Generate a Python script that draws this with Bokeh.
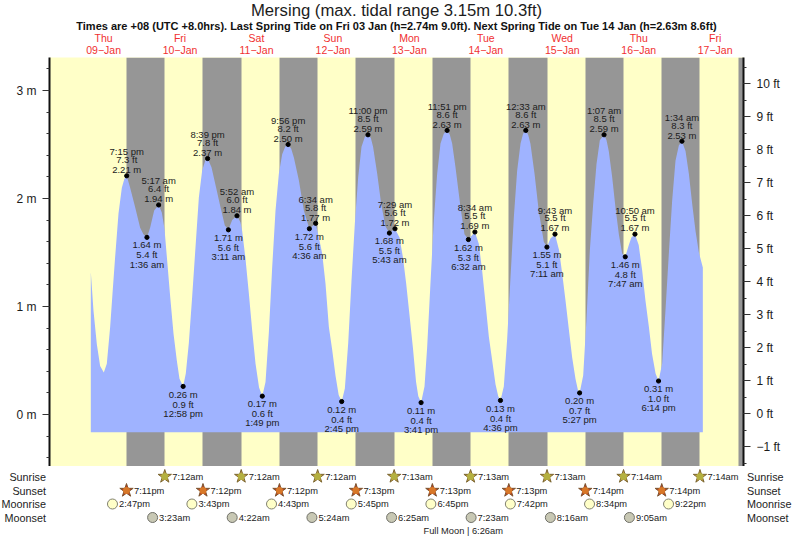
from bokeh.plotting import figure
from bokeh.layouts import column
from bokeh.models import ColumnDataSource, FixedTicker, LinearAxis, Range1d
from bokeh.core.properties import value
from bokeh.embed import file_html
from bokeh.resources import INLINE

FONT = "Liberation Sans"

# ---- tide curve (hours since 09-Jan 00:00, metres)
curve_t = [7.98, 8.82, 9.87, 10.91, 12.06, 13.00, 14.05, 14.79, 15.62, 16.67, 17.72, 18.50, 19.25,
           20.33, 21.90, 23.47, 24.50, 25.60, 26.60, 27.87, 29.28, 30.27, 31.11, 31.85, 32.90, 33.94,
           34.98, 35.82, 36.97, 37.80, 38.75, 39.80, 40.85, 41.90, 42.94, 43.90, 44.65, 45.87, 47.33,
           48.70, 50.06, 51.18, 52.36, 53.87, 54.97, 55.50, 56.55, 57.60, 58.64, 59.70, 60.80,
           61.82, 62.83, 63.88, 64.92, 65.97, 67.02, 68.06, 69.00, 69.93, 70.90, 71.73, 73.30, 74.87, 76.60,
           78.57, 79.58, 80.62, 81.67, 82.72, 83.76, 84.80, 85.80, 86.75, 87.74, 88.79, 89.83, 90.88,
           91.93, 92.97, 94.00, 95.00, 95.90, 96.60, 97.90, 99.15, 100.50, 101.72, 103.48, 104.90, 105.95, 107.00,
           108.00, 109.10, 110.10, 110.80, 111.68, 112.75, 113.58, 114.63, 115.68, 116.72, 117.77, 118.80, 119.85, 120.70, 121.43,
           122.48, 124.05, 125.30, 126.53, 128.57, 129.80, 130.85, 131.90, 132.95, 134.00, 135.04, 135.90, 136.60,
           137.65, 138.70, 139.75, 140.80, 141.84, 142.90, 143.70, 144.55, 145.30, 146.00, 147.30, 148.60, 150.20, 151.18,
           152.30, 153.72, 155.00, 156.00, 157.00, 158.10, 159.10, 160.15, 160.90, 161.45, 162.57, 163.60, 164.66,
           165.70, 166.75, 167.80, 169.12, 169.90, 170.60, 171.67, 172.70, 173.77, 174.80, 175.78, 176.90, 177.70,
           178.83, 180.00, 181.10, 182.10, 183.20, 184.20, 185.30, 186.23, 187.35, 188.40, 189.46, 190.50,
           191.55, 192.60, 193.57, 194.70, 195.75, 196.80, 197.84, 198.90, 200.14]
curve_h = [1.32, 0.96, 0.65, 0.45, 0.39, 0.47, 0.81, 1.12, 1.46, 1.86, 2.10, 2.18, 2.21,
           2.10, 1.92, 1.73, 1.67, 1.64, 1.73, 1.89, 1.94, 1.87, 1.72, 1.46, 1.09, 0.75,
           0.50, 0.33, 0.26, 0.38, 0.66, 1.09, 1.55, 2.01, 2.26, 2.35, 2.37, 2.29, 2.10,
           1.92, 1.75, 1.71, 1.80, 1.84, 1.78, 1.70, 1.44, 1.12, 0.78, 0.47, 0.25,
           0.17, 0.30, 0.76, 1.36, 1.89, 2.23, 2.41, 2.48, 2.50, 2.46, 2.38, 2.17, 1.89, 1.72,
           1.77, 1.64, 1.49, 1.21, 0.81, 0.60, 0.36, 0.18, 0.12, 0.24, 0.66, 1.24, 1.77,
           2.20, 2.48, 2.57, 2.59, 2.56, 2.48, 2.23, 1.95, 1.74, 1.68, 1.72, 1.64, 1.46, 1.21,
           0.93, 0.62, 0.30, 0.17, 0.11, 0.26, 0.62, 1.22, 1.80, 2.23, 2.51, 2.60, 2.63, 2.59, 2.51,
           2.29, 1.92, 1.67, 1.62, 1.69, 1.58, 1.33, 1.03, 0.72, 0.50, 0.28, 0.17, 0.13,
           0.26, 0.70, 1.27, 1.83, 2.26, 2.51, 2.60, 2.63, 2.59, 2.51, 2.23, 1.89, 1.60, 1.55,
           1.63, 1.67, 1.52, 1.30, 1.06, 0.78, 0.53, 0.33, 0.23, 0.20, 0.36, 0.88, 1.52,
           1.95, 2.32, 2.54, 2.59, 2.54, 2.44, 2.20, 1.92, 1.67, 1.49, 1.46, 1.57, 1.64,
           1.67, 1.57, 1.33, 1.06, 0.81, 0.56, 0.38, 0.31, 0.47, 0.96, 1.49, 1.98,
           2.35, 2.49, 2.53, 2.44, 2.23, 1.95, 1.70, 1.50, 1.36]
curve_base = -0.164

# ---- labelled high-side events
high_t = [19.25, 29.28, 44.65, 53.87, 69.93, 78.57, 95.00, 103.48, 119.85, 128.57, 144.55, 153.72, 169.12, 178.83, 193.57]
high_m = [2.21, 1.94, 2.37, 1.84, 2.50, 1.77, 2.59, 1.72, 2.63, 1.69, 2.63, 1.67, 2.59, 1.67, 2.53]
high_ft = ["7.3 ft", "6.4 ft", "7.8 ft", "6.0 ft", "8.2 ft", "5.8 ft", "8.5 ft", "5.6 ft", "8.6 ft", "5.5 ft", "8.6 ft", "5.5 ft", "8.5 ft", "5.5 ft", "8.3 ft"]
high_time = ["7:15 pm", "5:17 am", "8:39 pm", "5:52 am", "9:56 pm", "6:34 am", "11:00 pm", "7:29 am", "11:51 pm", "8:34 am", "12:33 am", "9:43 am", "1:07 am", "10:50 am", "1:34 am"]

# ---- labelled low-side events
low_t = [25.60, 36.97, 51.18, 61.82, 76.60, 86.75, 101.72, 111.68, 126.53, 136.60, 151.18, 161.45, 175.78, 186.23]
low_m = [1.64, 0.26, 1.71, 0.17, 1.72, 0.12, 1.68, 0.11, 1.62, 0.13, 1.55, 0.20, 1.46, 0.31]
low_ft = ["5.4 ft", "0.9 ft", "5.6 ft", "0.6 ft", "5.6 ft", "0.4 ft", "5.5 ft", "0.4 ft", "5.3 ft", "0.4 ft", "5.1 ft", "0.7 ft", "4.8 ft", "1.0 ft"]
low_time = ["1:36 am", "12:58 pm", "3:11 am", "1:49 pm", "4:36 am", "2:45 pm", "5:43 am", "3:41 pm", "6:32 am", "4:36 pm", "7:11 am", "5:27 pm", "7:47 am", "6:14 pm"]

# ---- days
day_hours = [12, 36, 60, 84, 108, 132, 156, 180, 204]
day_names = ["Thu", "Fri", "Sat", "Sun", "Mon", "Tue", "Wed", "Thu", "Fri"]
day_dates = ["09\u2212Jan", "10\u2212Jan", "11\u2212Jan", "12\u2212Jan", "13\u2212Jan", "14\u2212Jan", "15\u2212Jan", "16\u2212Jan", "17\u2212Jan"]

# ---- astronomy (day index from 09-Jan, clock text)
sunrise_day = [1, 2, 3, 4, 5, 6, 7, 8]
sunrise_txt = ["7:12am", "7:12am", "7:12am", "7:13am", "7:13am", "7:13am", "7:14am", "7:14am"]
sunset_day = [0, 1, 2, 3, 4, 5, 6, 7]
sunset_txt = ["7:11pm", "7:12pm", "7:12pm", "7:13pm", "7:13pm", "7:13pm", "7:14pm", "7:14pm"]
moonrise_day = [0, 1, 2, 3, 4, 5, 6, 7]
moonrise_txt = ["2:47pm", "3:43pm", "4:43pm", "5:45pm", "6:45pm", "7:42pm", "8:34pm", "9:22pm"]
moonset_day = [1, 2, 3, 4, 5, 6, 7]
moonset_txt = ["3:23am", "4:22am", "5:24am", "6:25am", "7:23am", "8:16am", "9:05am"]
last_sunset = ("7:15pm", 8)

title_text = "Mersing (max. tidal range 3.15m 10.3ft)"
subtitle_text = ("Times are +08 (UTC +8.0hrs). Last Spring Tide on Fri 03 Jan (h=2.74m 9.0ft). "
                 "Next Spring Tide on Tue 14 Jan (h=2.63m 8.6ft)")
moon_text = "Full Moon | 6:26am"


def hours(txt, day):
    hh, rest = txt.split(":")
    h = int(hh) % 12 + (12 if rest.endswith("pm") else 0)
    return day * 24 + h + int(rest[:2]) / 60


sunrise_x = [hours(t, d) for t, d in zip(sunrise_txt, sunrise_day)]
sunset_x = [hours(t, d) for t, d in zip(sunset_txt, sunset_day)]
moonrise_x = [hours(t, d) for t, d in zip(moonrise_txt, moonrise_day)]
moonset_x = [hours(t, d) for t, d in zip(moonset_txt, moonset_day)]

# ---- scales: hours and metres <-> canvas pixels
W, H_HEAD, H_BOT = 793, 57, 73
F_L, F_R, F_B = 49, 743, 466
PX_H, X0 = 3.185, 64.9      # pixels per hour, pixel of hour 0
PX_M, Y0 = 108.0, 414.0     # pixels per metre, pixel of 0 m
X_START, X_END = (F_L - X0) / PX_H, (F_R - X0) / PX_H
Y_TOP, Y_BOT = (Y0 - H_HEAD) / PX_M, (Y0 - F_B) / PX_M


def xh(px):
    return (px - X0) / PX_H


YELLOW, GRAY, BLUE = "#ffffc8", "#969696", "#9fb3ff"
INK = "#1c1c1c"

# ---- header strip
h = figure(width=W, height=H_HEAD, output_backend="svg", toolbar_location=None,
           x_range=Range1d(xh(0), xh(W)), y_range=Range1d(H_HEAD, 0),
           min_border=0, x_axis_location=None, y_axis_location=None, outline_line_color=None,
           background_fill_color="white", border_fill_color="white")
h.grid.visible = False
h.frame_align = False
h.text([xh(396)], [9.5], text=[title_text], text_align="center", text_baseline="middle",
       text_font=value(FONT), text_font_size="16.7px", text_color=INK)
h.text([xh(396)], [25], text=[subtitle_text], text_align="center", text_baseline="middle",
       text_font=value(FONT), text_font_style="bold", text_font_size="11px", text_color="#111111")
h.text(day_hours, [37.5] * len(day_hours), text=day_names, text_align="center", text_baseline="middle",
       text_font=value(FONT), text_font_size="10.5px", text_color="#f03030")
h.text(day_hours, [49.5] * len(day_hours), text=day_dates, text_align="center", text_baseline="middle",
       text_font=value(FONT), text_font_size="10.5px", text_color="#f03030")

# ---- main plot
p = figure(width=W, height=F_B - H_HEAD, output_backend="svg", toolbar_location=None,
           x_range=Range1d(X_START, X_END), y_range=Range1d(Y_BOT, Y_TOP),
           min_border_left=F_L, min_border_right=W - F_R, min_border_top=0, min_border_bottom=0,
           x_axis_location=None, y_axis_location=None, background_fill_color=YELLOW,
           border_fill_color="white", outline_line_color=None)
p.grid.visible = False
p.frame_align = False

p.vstrip(x0=sunset_x + [hours(*last_sunset)], x1=sunrise_x + [X_END + 5], fill_color=GRAY, line_color=None)
p.varea(x=curve_t, y1=[curve_base] * len(curve_t), y2=curve_h, fill_color=BLUE)

high = ColumnDataSource(dict(x=high_t, y=high_m, m=[f"{v:.2f} m" for v in high_m], ft=high_ft, t=high_time))
low = ColumnDataSource(dict(x=low_t, y=low_m, m=[f"{v:.2f} m" for v in low_m], ft=low_ft, t=low_time))
for src in (high, low):
    p.scatter("x", "y", source=src, size=4.2, color="black")
for src, col, off in ((high, "m", -6.2), (high, "ft", -16.2), (high, "t", -24.0),
                      (low, "m", 7.6), (low, "ft", 17.6), (low, "t", 26.8)):
    p.text("x", "y", text=col, source=src, y_offset=off, text_align="center", text_baseline="middle",
           text_font=value(FONT), text_font_size="9.5px", text_color=INK)

yax = LinearAxis(ticker=FixedTicker(ticks=[0, 1, 2, 3], minor_ticks=[i * 0.2 for i in range(-2, 17)]),
                 major_label_overrides={0: "0 m", 1: "1 m", 2: "2 m", 3: "3 m"})
p.add_layout(yax, "left")
FT_PX, FT0 = 33.0, 413.0
p.extra_y_ranges["ft"] = Range1d((FT0 - F_B) / FT_PX, (FT0 - H_HEAD) / FT_PX)
ftticks = list(range(-1, 11))
ftax = LinearAxis(y_range_name="ft", ticker=FixedTicker(ticks=ftticks, minor_ticks=[i * 0.5 for i in range(-3, 22)]),
                  major_label_overrides={k: (f"{k} ft" if k >= 0 else f"\u2212{-k} ft") for k in ftticks})
p.add_layout(ftax, "right")
for ax in (yax, ftax):
    ax.axis_line_color = "#111111"
    ax.axis_line_width = 2
    ax.major_tick_line_color = "#333333"
    ax.minor_tick_line_color = "#333333"
    ax.major_tick_in = 0
    ax.major_tick_out = 7
    ax.minor_tick_in = 0
    ax.minor_tick_out = 3
    ax.major_label_text_font = FONT
    ax.major_label_text_font_size = "12px"
    ax.major_label_text_color = INK
    ax.major_label_standoff = 6

# ---- astronomy strip
s = figure(width=W, height=H_BOT, output_backend="svg", toolbar_location=None,
           x_range=Range1d(xh(0), xh(W)), y_range=Range1d(H_BOT, 0),
           min_border=0, x_axis_location=None, y_axis_location=None, outline_line_color=None,
           background_fill_color="white", border_fill_color="white")
s.grid.visible = False
s.frame_align = False
ROWS = dict(Sunrise=476 - F_B, Sunset=490 - F_B, Moonrise=503.5 - F_B, Moonset=517 - F_B)

for name, row in ROWS.items():
    s.text([xh(45.5)], [row], text=[name], text_align="right", text_baseline="middle",
           text_font=value(FONT), text_font_size="10.8px", text_color=INK)
    s.text([xh(746.5)], [row], text=[name], text_align="left", text_baseline="middle",
           text_font=value(FONT), text_font_size="10.8px", text_color=INK)

for xs, txts, row, dx in ((sunrise_x, sunrise_txt, "Sunrise", 7.5), (sunset_x, sunset_txt, "Sunset", 7.5),
                          (moonrise_x, moonrise_txt, "Moonrise", 6.5), (moonset_x, moonset_txt, "Moonset", 6.5)):
    ys = [ROWS[row]] * len(xs)
    if row == "Sunrise":
        s.scatter(xs, ys, marker="star", size=14, fill_color="#c8a040", line_color="#7a6530", line_width=1)
        s.scatter(xs, ys, marker="circle", size=7, fill_color="#b4b040", line_color=None)
    elif row == "Sunset":
        s.scatter(xs, ys, marker="star", size=14, fill_color="#c83c20", line_color="#7a5530", line_width=1)
        s.scatter(xs, ys, marker="circle", size=7, fill_color="#d87828", line_color=None)
    elif row == "Moonrise":
        s.scatter(xs, ys, marker="circle", size=10, fill_color="#ffffc8", line_color="#808070", line_width=1)
    else:
        s.scatter(xs, ys, marker="circle", size=10, fill_color="#c8c8b4", line_color="#707068", line_width=1)
    s.text(xs, ys, text=txts, x_offset=dx, text_align="left", text_baseline="middle",
           text_font=value(FONT), text_font_size="9.3px", text_color=INK)

s.text([xh(462.7)], [530 - F_B], text=[moon_text], text_align="center", text_baseline="middle",
       text_font=value(FONT), text_font_size="9.3px", text_color=INK)

page = column(h, p, s, spacing=0, styles={"position": "absolute", "left": "0px", "top": "0px"})
open("out.html", "w").write(file_html(page, INLINE))
